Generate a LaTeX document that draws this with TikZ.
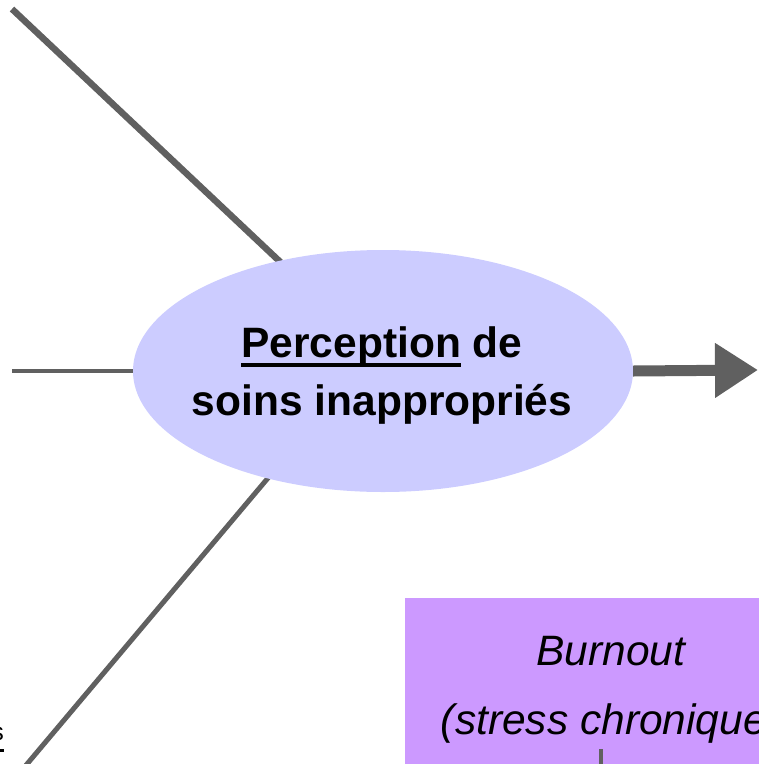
\documentclass[tikz,border=0pt]{standalone}
\usepackage{fontspec}
\setmainfont{Liberation Sans}
\usetikzlibrary{arrows.meta,shapes.geometric}
\definecolor{linegray}{HTML}{606060}
\definecolor{ellfill}{HTML}{CCCCFF}
\definecolor{boxfill}{HTML}{CC99FF}
\newcommand\myul[1]{\setbox0\hbox{#1}\rlap{\rule[-9pt]{\wd0}{3.5pt}}\box0\relax}
\tikzset{
  conn/.style={draw=linegray},
  ell/.style={ellipse, fill=ellfill, draw=none, minimum width=500pt, minimum height=242pt, inner sep=0pt},
  boxnode/.style={rectangle, fill=boxfill, draw=none, minimum width=412pt, minimum height=240pt, anchor=north west, inner sep=0pt},
  bigtxt/.style={align=center, inner sep=0pt},
}
\begin{document}
\begin{tikzpicture}[x=1pt,y=-1pt]
\useasboundingbox (0,0) rectangle (759,764);
\clip (0,0) rectangle (759,764);
% connectors into ellipse (ellipse is drawn on top)
\coordinate (tl) at (12,9);
\coordinate (tli) at (310,290);
\coordinate (ml) at (12,371);
\coordinate (mli) at (200,371);
\coordinate (bl) at (22,770);
\coordinate (bli) at (300,440);
\coordinate (out) at (758,370);
\draw[conn, line width=6.5pt] (tl) -- (tli);
\draw[conn, line width=4.5pt] (ml) -- (mli);
\draw[conn, line width=5pt] (bl) -- (bli);
% nodes
\node[ell] (perc) at (383,371) {};
\node[boxnode] (burn) at (405,598) {};
\draw[conn, line width=11pt, -{Triangle[length=43pt,width=52pt]}] (perc.east) -- (out);
% texts
\node[bigtxt, font=\fontsize{42.5}{58}\selectfont\bfseries] (perctxt) at (382,376)
  {\myul{Perception} de\\soins inappropriés};
\node[bigtxt, font=\fontsize{42.5}{69}\selectfont\itshape] (burntxt) at (611,690)
  {Burnout\\(stress chronique)};
% small vertical connector in box
\coordinate (v1) at (601,749);
\coordinate (v2) at (601,780);
\draw[conn, line width=4pt] (v1) -- (v2);
% clipped fragment bottom left
\node[anchor=base east, inner sep=0pt, font=\fontsize{25}{30}\selectfont] (frag) at (4,740) {s};
\draw[line width=3pt] (frag.base east) ++(-20,10) -- ++(20,0);
\end{tikzpicture}
\end{document}
